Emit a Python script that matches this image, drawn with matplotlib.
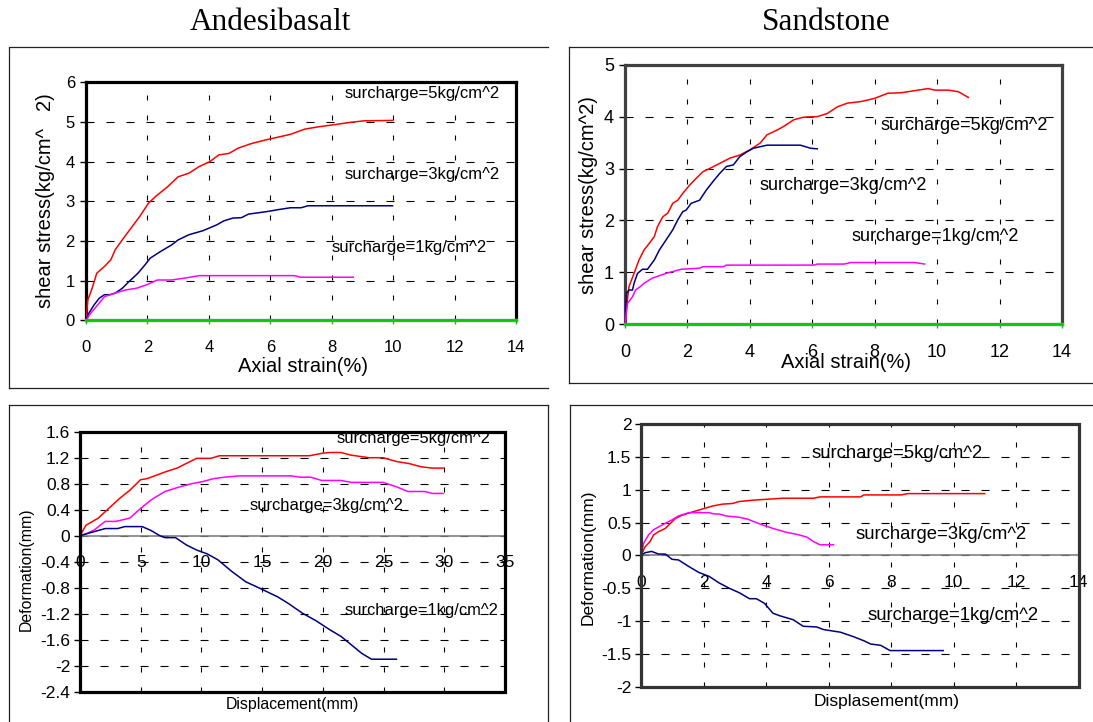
import matplotlib
matplotlib.use("Agg")

import matplotlib.pyplot as plt
from matplotlib import font_manager
from matplotlib.lines import Line2D
from matplotlib.patches import Rectangle

# =========================================================
# DATA
# =========================================================

# Andesibasalt - shear stress vs axial strain
a5_x = [0, 0.06, 0.2, 0.35, 0.6, 0.81, 0.95, 1.18, 1.46, 1.75, 2.03, 2.26, 2.66, 3.0, 3.35,
        3.69, 4.03, 4.32, 4.66, 4.95, 5.4, 5.86, 6.32, 6.66, 7.12, 7.58, 8.15, 8.6, 9.06, 9.98]
a5_y = [0, 0.52, 0.81, 1.19, 1.36, 1.53, 1.78, 2.03, 2.32, 2.62, 2.95, 3.12, 3.37, 3.62, 3.71,
        3.88, 4.0, 4.17, 4.21, 4.34, 4.46, 4.55, 4.63, 4.69, 4.82, 4.88, 4.94, 4.99, 5.03, 5.04]
a3_x = [0, 0.09, 0.26, 0.43, 0.6, 0.78, 0.95, 1.18, 1.4, 1.69, 1.92, 2.09, 2.43, 2.78, 3.0,
        3.35, 3.8, 4.26, 4.49, 4.78, 5.06, 5.29, 5.86, 6.32, 6.66, 7.0, 7.23, 9.98]
a3_y = [0, 0.18, 0.39, 0.56, 0.65, 0.65, 0.69, 0.81, 0.98, 1.19, 1.4, 1.57, 1.74, 1.9, 2.03,
        2.16, 2.26, 2.41, 2.51, 2.58, 2.59, 2.68, 2.74, 2.8, 2.84, 2.84, 2.89, 2.89]
a1_x = [0, 0.15, 0.38, 0.6, 0.95, 1.29, 1.63, 1.98, 2.32, 2.78, 3.23, 3.69, 6.78, 7.0, 8.7]
a1_y = [0, 0.18, 0.39, 0.6, 0.69, 0.77, 0.81, 0.9, 1.02, 1.02, 1.07, 1.13, 1.13, 1.09, 1.09]

# Sandstone - shear stress vs axial strain
s5_x = [0, 0.05, 0.13, 0.29, 0.45, 0.61, 0.78, 0.94, 1.04, 1.21, 1.37, 1.53, 1.69, 1.85, 2.07,
        2.28, 2.5, 2.71, 3.04, 3.36, 3.68, 4.0, 4.33, 4.55, 4.87, 5.08, 5.41, 5.73, 6.16, 6.48,
        6.81, 7.13, 7.56, 7.99, 8.42, 8.85, 9.39, 9.71, 9.93, 10.36, 10.68, 11.0]
s5_y = [0, 0.34, 0.73, 0.98, 1.24, 1.43, 1.56, 1.69, 1.88, 2.07, 2.14, 2.33, 2.39, 2.52, 2.68,
        2.81, 2.94, 3.0, 3.1, 3.2, 3.26, 3.36, 3.49, 3.65, 3.74, 3.81, 3.94, 3.99, 4.0, 4.06,
        4.19, 4.26, 4.29, 4.35, 4.45, 4.46, 4.51, 4.54, 4.51, 4.51, 4.48, 4.37]
s3_x = [0, 0.05, 0.13, 0.24, 0.29, 0.4, 0.56, 0.72, 0.94, 1.1, 1.31, 1.53, 1.69, 1.85, 1.96,
        2.12, 2.39, 2.61, 2.82, 3.04, 3.25, 3.47, 3.68, 3.9, 4.11, 4.55, 5.62, 5.95, 6.16]
s3_y = [0, 0.6, 0.66, 0.66, 0.79, 0.98, 1.06, 1.06, 1.24, 1.43, 1.62, 1.82, 2.01, 2.17, 2.2,
        2.33, 2.39, 2.59, 2.75, 2.91, 3.04, 3.07, 3.23, 3.32, 3.39, 3.45, 3.45, 3.39, 3.38]
s1_x = [0, 0.08, 0.24, 0.34, 0.5, 0.61, 0.88, 1.31, 1.8, 2.39, 2.5, 3.15, 3.25, 6.05, 6.16,
        7.02, 7.24, 9.28, 9.6]
s1_y = [0, 0.4, 0.53, 0.66, 0.73, 0.79, 0.89, 0.98, 1.06, 1.08, 1.11, 1.11, 1.14, 1.14, 1.16,
        1.16, 1.19, 1.19, 1.16]

# Andesibasalt - deformation vs displacement
d5_x = [0, 0.49, 1.5, 2.37, 3.24, 4.11, 4.98, 5.56, 7.0, 8.0, 8.74, 9.6, 10.77, 11.49, 18.9,
        20.0, 20.6, 21.5, 22.3, 23.8, 24.96, 26.1, 27.1, 28.1, 29.0, 29.9]
d5_y = [0, 0.16, 0.27, 0.42, 0.57, 0.7, 0.86, 0.88, 0.98, 1.04, 1.11, 1.19, 1.19, 1.23, 1.23,
        1.27, 1.28, 1.28, 1.24, 1.2, 1.2, 1.14, 1.11, 1.06, 1.04, 1.04]
d3_x = [0, 0.64, 1.2, 1.65, 2.08, 2.95, 4.1, 5.0, 5.85, 7.0, 8.2, 9.18, 10.05, 11.06, 11.9,
        13.1, 17.4, 18.15, 19.0, 19.9, 21.5, 22.35, 24.96, 26.1, 27.0, 28.4, 29.0, 29.9]
d3_y = [0, 0.04, 0.09, 0.16, 0.22, 0.22, 0.27, 0.42, 0.55, 0.68, 0.75, 0.8, 0.83, 0.88, 0.9,
        0.92, 0.92, 0.9, 0.9, 0.85, 0.85, 0.82, 0.82, 0.75, 0.68, 0.68, 0.65, 0.65]
d1_x = [0, 0.93, 2.08, 3.1, 3.68, 5.12, 5.85, 6.57, 7.0, 7.87, 8.74, 9.6, 10.48, 11.35, 12.5,
        13.66, 14.82, 16.27, 17.14, 18.3, 19.45, 20.6, 21.5, 22.35, 23.2, 24.0, 26.06]
d1_y = [0, 0.05, 0.11, 0.11, 0.14, 0.14, 0.08, 0.0, -0.03, -0.03, -0.14, -0.22, -0.28, -0.37,
        -0.55, -0.71, -0.81, -0.94, -1.04, -1.19, -1.31, -1.45, -1.55, -1.68, -1.81, -1.9, -1.9]

# Sandstone - deformation vs displacement
e5_x = [0, 0.13, 0.29, 0.4, 0.56, 0.78, 0.99, 1.1, 1.31, 1.64, 2.07, 2.28, 2.61, 2.93, 3.15,
        3.58, 4.55, 5.52, 5.73, 7.03, 7.13, 8.32, 8.53, 11.0]
e5_y = [0, 0.13, 0.21, 0.31, 0.36, 0.41, 0.51, 0.56, 0.61, 0.66, 0.72, 0.75, 0.78, 0.79, 0.82,
        0.84, 0.87, 0.87, 0.89, 0.89, 0.92, 0.92, 0.94, 0.94]
e3_x = [0, 0.08, 0.24, 0.4, 0.67, 0.99, 1.2, 1.53, 2.18, 2.34, 2.5, 2.72, 2.93, 3.15, 3.42,
        3.79, 4.22, 4.66, 4.98, 5.3, 5.52, 5.73, 6.16]
e3_y = [0, 0.18, 0.31, 0.39, 0.46, 0.54, 0.6, 0.65, 0.65, 0.63, 0.63, 0.6, 0.59, 0.58, 0.55,
        0.48, 0.41, 0.35, 0.32, 0.28, 0.21, 0.16, 0.16]
e1_x = [0, 0.13, 0.34, 0.56, 0.78, 0.99, 1.2, 1.53, 1.85, 2.18, 2.5, 2.82, 3.15, 3.47, 3.69,
        3.95, 4.22, 4.44, 4.87, 5.19, 5.62, 5.84, 6.38, 6.81, 7.13, 7.35, 7.67, 7.97, 9.67]
e1_y = [0, 0.04, 0.06, 0.02, 0.02, -0.06, -0.07, -0.17, -0.26, -0.32, -0.42, -0.5, -0.57,
        -0.66, -0.66, -0.73, -0.88, -0.92, -0.98, -1.08, -1.09, -1.13, -1.17, -1.24, -1.3,
        -1.35, -1.37, -1.45, -1.45]

labels = ["surcharge=5kg/cm^2", "surcharge=3kg/cm^2", "surcharge=1kg/cm^2"]

# =========================================================
# STYLE
# =========================================================

W, H = 1093, 722
RED, NAVY, MAGENTA, GREEN = "#FF0000", "#000080", "#FF00FF", "#00CC00"

SANS = "Liberation Sans"
SERIF = "Liberation Serif"


def has_font(name):
    try:
        font_manager.findfont(name, fallback_to_default=False)
        return True
    except ValueError:
        return False


if has_font("Liberation Sans Narrow"):
    NARROW, nscale = "Liberation Sans Narrow", 1.0
else:
    NARROW, nscale = SANS, 0.82

plt.rcParams["font.family"] = SANS
plt.rcParams["lines.scale_dashes"] = False

HDASH = (0, (5.8, 8.6))
VDASH = (0, (3.6, 10.8))


def fx(px):
    return px / W


def fy(py):
    return 1 - py / H


def px_axes(left, top, right, bottom):
    return [fx(left), fy(bottom), (right - left) / W, (bottom - top) / H]


fig = plt.figure(figsize=(W / 100, H / 100), dpi=100)

# =========================================================
# OUTER FRAMES + TITLES
# =========================================================

frame_kw = dict(color="#222222", lw=0.9, transform=fig.transFigure)
frames = [
    [(10, 47), (548, 47)], [(9, 47), (9, 388)], [(9, 388), (548, 388)],
    [(569, 47), (1093, 47)], [(569, 47), (569, 383)], [(569, 383), (1093, 383)],
    [(9, 405), (548, 405)], [(9, 405), (9, 722)], [(548, 405), (548, 722)],
    [(570, 405), (1093, 405)], [(570, 405), (570, 722)],
]
for (x0, y0), (x1, y1) in frames:
    fig.add_artist(Line2D([fx(x0), fx(x1)], [fy(y0), fy(y1)], **frame_kw))

fig.text(fx(270), fy(22), "Andesibasalt", family=SERIF, fontsize=22.5, ha="center", va="center")
fig.text(fx(826), fy(22), "Sandstone", family=SERIF, fontsize=22.5, ha="center", va="center")

# =========================================================
# TOP PANELS - shear stress
# =========================================================


def shear_panel(rect, xs, ys, ymax, text_pos, fs, frame_color, ylabel, xlab_pos, ylab_pos):
    ax = fig.add_axes(rect)
    ax.set_xlim(0, 14)
    ax.set_ylim(0, ymax)
    ax.set_xticks(range(0, 15, 2))
    ax.set_yticks(range(0, ymax + 1))
    ax.xaxis.grid(True, color="black", lw=0.8, linestyle=VDASH)
    ax.yaxis.grid(True, color="black", lw=0.8, linestyle=HDASH)
    for (x, y), c in zip(zip(xs, ys), [RED, NAVY, MAGENTA]):
        ax.plot(x, y, color=c, lw=1.1, zorder=3)
    ax.axhline(0, color=GREEN, lw=1.8, zorder=4, clip_on=False)
    for side in ["top", "right", "left"]:
        ax.spines[side].set_color(frame_color)
        ax.spines[side].set_linewidth(2.3)
    ax.spines["bottom"].set_color("#999999")
    ax.spines["bottom"].set_linewidth(2.5)
    ax.tick_params(axis="x", colors=GREEN, length=3, width=1, pad=11, labelsize=fs,
                   labelcolor="black")
    ax.tick_params(axis="y", length=4, width=1, pad=4, labelsize=fs)
    for lab, (tx, ty) in zip(labels, text_pos):
        ax.text(tx, ty, lab, fontsize=fs, va="center", ha="left", zorder=5)
    fig.text(fx(xlab_pos[0]), fy(xlab_pos[1]), "Axial strain(%)", fontsize=14.5,
             ha="center", va="center")
    fig.text(fx(ylab_pos[0]), fy(ylab_pos[1]), ylabel, fontsize=14.5, rotation=90,
             ha="center", va="center")
    return ax


shear_panel(px_axes(86, 82.3, 516, 320.5),
            [a5_x, a3_x, a1_x], [a5_y, a3_y, a1_y], 6,
            [(8.43, 5.72), (8.43, 3.67), (7.98, 1.85)], 12, "black",
            "shear stress(kg/cm^   2)", (303.5, 367), (46, 201))

shear_panel(px_axes(625, 64.7, 1062, 324.3),
            [s5_x, s3_x, s1_x], [s5_y, s3_y, s1_y], 5,
            [(8.18, 3.82), (4.3, 2.68), (7.27, 1.70)], 13, "#404040",
            "shear stress(kg/cm^2)", (846, 363), (588.6, 195))

# =========================================================
# BOTTOM PANELS - deformation
# =========================================================


def deform_panel(rect, xs, ys, xlim, xstep, yticks, text_pos, fs, tfs, tick_font, text_font,
                 frame_color, xlabel, xlab_pos, ylab_pos, lab_font, lab_fs):
    ax = fig.add_axes(rect)
    ax.set_xlim(0, xlim)
    ax.set_ylim(yticks[-1], yticks[0])
    ax.set_xticks(range(0, xlim + 1, xstep))
    ax.set_yticks(yticks)
    ax.set_yticklabels(["%g" % v for v in yticks])
    ax.xaxis.grid(True, color="black", lw=0.8, linestyle=VDASH)
    ax.yaxis.grid(True, color="black", lw=0.8, linestyle=HDASH)
    for (x, y), c in zip(zip(xs, ys), [RED, MAGENTA, NAVY]):
        ax.plot(x, y, color=c, lw=1.1, zorder=3)
    for side in ["top", "right", "left"]:
        ax.spines[side].set_visible(False)
    ax.spines["bottom"].set_position(("data", 0))
    ax.spines["bottom"].set_color("#808080")
    ax.spines["bottom"].set_linewidth(1.2)
    ax.add_patch(Rectangle((0, 0), 1, 1, transform=ax.transAxes, fill=False,
                           edgecolor=frame_color, lw=2.3, zorder=6, clip_on=False))
    ax.tick_params(axis="x", length=0, pad=14, labelsize=tfs)
    ax.tick_params(axis="y", length=4, width=1, pad=3, labelsize=tfs)
    for t in ax.get_xticklabels() + ax.get_yticklabels():
        t.set_family(tick_font)
    for lab, (tx, ty) in zip(labels, text_pos):
        ax.text(tx, ty, lab, fontsize=fs, family=text_font, va="center", ha="left", zorder=5)
    fig.text(fx(xlab_pos[0]), fy(xlab_pos[1]), xlabel, fontsize=lab_fs, family=lab_font,
             ha="center", va="center")
    fig.text(fx(ylab_pos[0]), fy(ylab_pos[1]), "Deformation(mm)", fontsize=lab_fs,
             family=lab_font, rotation=90, ha="center", va="center")
    return ax


deform_panel(px_axes(80, 431.7, 505, 691.7),
             [d5_x, d3_x, d1_x], [d5_y, d3_y, d1_y], 35, 5,
             [1.6, 1.2, 0.8, 0.4, 0, -0.4, -0.8, -1.2, -1.6, -2, -2.4],
             [(21.1, 1.50), (13.95, 0.46), (21.8, -1.15)],
             14.5 * nscale, 12.5, SANS, NARROW, "black",
             "Displacement(mm)", (292, 704), (26.4, 569), NARROW, 14 * nscale)

deform_panel(px_axes(641, 424, 1078.5, 686.7),
             [e5_x, e3_x, e1_x], [e5_y, e3_y, e1_y], 14, 2,
             [2, 1.5, 1, 0.5, 0, -0.5, -1, -1.5, -2],
             [(5.46, 1.55), (6.87, 0.32), (7.26, -0.91)],
             13.3, 12.5, SANS, SANS, "#333333",
             "Displasement(mm)", (886.5, 701.7), (588, 557.5), SANS, 12.5)

# =========================================================
# SAVE
# =========================================================

plt.savefig("out.png", dpi=100)
print("Saved: out.png")
